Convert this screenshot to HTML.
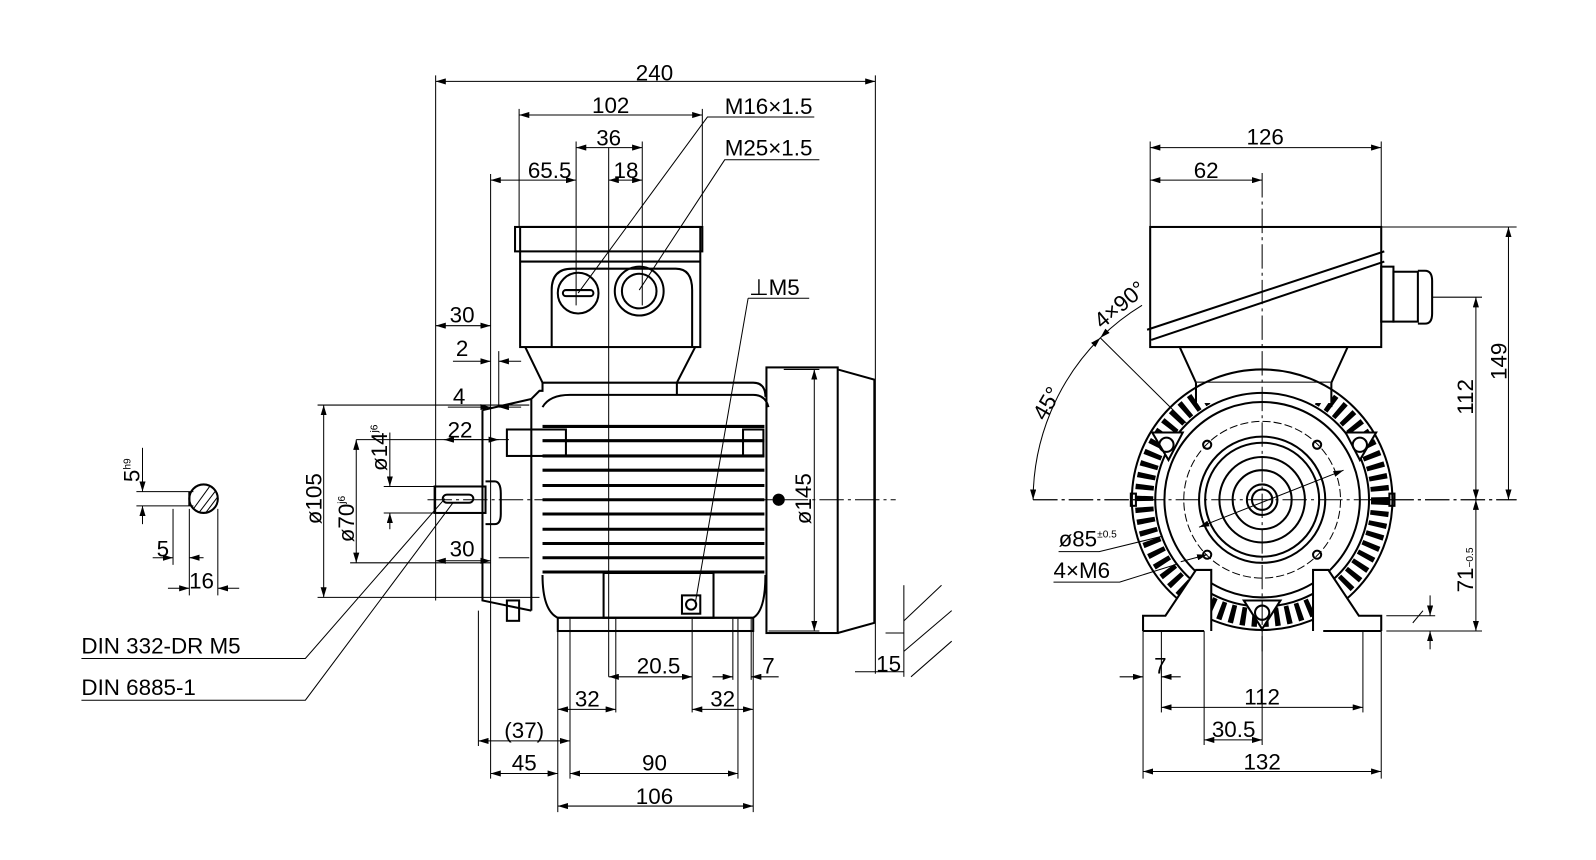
<!DOCTYPE html>
<html><head><meta charset="utf-8"><style>
html,body{margin:0;padding:0;background:#fff;}
svg{display:block}
text{font-family:"Liberation Sans",sans-serif;font-size:22px;fill:#000;}
</style></head><body>
<svg width="1596" height="860" viewBox="0 0 1568 845" preserveAspectRatio="none" xmlns="http://www.w3.org/2000/svg">
<defs>
<marker id="a" viewBox="0 0 10 6" refX="10" refY="3" markerWidth="10" markerHeight="6" markerUnits="userSpaceOnUse" orient="auto-start-reverse"><path d="M0,0L10,3L0,6z" fill="#000"/></marker>
</defs>
<g fill="none" stroke="#000" stroke-width="1">
<line x1="428" y1="80" x2="860" y2="80" marker-start="url(#a)" marker-end="url(#a)"/>
<line x1="428" y1="74" x2="428" y2="590"/><line x1="860" y1="74" x2="860" y2="662"/>
<line x1="510" y1="113" x2="690" y2="113" marker-start="url(#a)" marker-end="url(#a)"/>
<line x1="510" y1="107" x2="510" y2="222"/><line x1="690" y1="107" x2="690" y2="222"/>
<line x1="566" y1="145" x2="631" y2="145" marker-start="url(#a)" marker-end="url(#a)"/>
<line x1="566" y1="139" x2="566" y2="300"/><line x1="631" y1="139" x2="631" y2="300"/>
<line x1="598" y1="145" x2="598" y2="665"/>
<line x1="482" y1="177" x2="566" y2="177" marker-start="url(#a)" marker-end="url(#a)"/>
<line x1="598" y1="177" x2="631" y2="177" marker-start="url(#a)" marker-end="url(#a)"/>
<line x1="482" y1="171" x2="482" y2="765"/>
<polyline points="568,288 695,115 800,115"/>
<polyline points="628,285 712,157 805,157"/>
<line x1="428" y1="320" x2="482" y2="320" marker-start="url(#a)" marker-end="url(#a)"/>
<line x1="445" y1="355" x2="482" y2="355" marker-end="url(#a)"/><line x1="512" y1="355" x2="490" y2="355" marker-end="url(#a)"/>
<line x1="490" y1="345" x2="490" y2="400"/>
<line x1="440" y1="400" x2="482" y2="400" marker-end="url(#a)"/><line x1="512" y1="400" x2="490" y2="400" marker-end="url(#a)"/>
<line x1="436" y1="432" x2="490" y2="432" marker-start="url(#a)" marker-end="url(#a)"/>
<line x1="350" y1="432" x2="500" y2="432"/>
<line x1="318" y1="398" x2="318" y2="587" marker-start="url(#a)" marker-end="url(#a)"/>
<line x1="312" y1="398" x2="520" y2="398"/><line x1="312" y1="587" x2="530" y2="587"/>
<line x1="350" y1="432" x2="350" y2="553" marker-start="url(#a)" marker-end="url(#a)"/>
<line x1="344" y1="553" x2="482" y2="553"/>
<line x1="383" y1="425" x2="383" y2="478" marker-end="url(#a)"/><line x1="383" y1="520" x2="383" y2="504" marker-end="url(#a)"/>
<line x1="377" y1="478" x2="435" y2="478"/><line x1="377" y1="504" x2="435" y2="504"/>
<line x1="428" y1="551" x2="482" y2="551" marker-start="url(#a)" marker-end="url(#a)"/>
<line x1="490" y1="548" x2="520" y2="548"/>
<polyline points="80,647 300,647 437,490" /><polyline points="80,688 300,688 445,494"/>
<polyline points="735,293 683,593"/><line x1="735" y1="293" x2="795" y2="293"/>
<line x1="800" y1="363" x2="800" y2="620" marker-start="url(#a)" marker-end="url(#a)"/>
<line x1="770" y1="363" x2="805" y2="363"/><line x1="755" y1="620" x2="805" y2="620"/>
<line x1="548" y1="608" x2="548" y2="798"/><line x1="560" y1="608" x2="560" y2="765"/>
<line x1="605" y1="608" x2="605" y2="700"/><line x1="680" y1="608" x2="680" y2="700"/>
<line x1="725" y1="608" x2="725" y2="765"/><line x1="740" y1="608" x2="740" y2="798"/>
<line x1="720" y1="608" x2="720" y2="668"/><line x1="738" y1="608" x2="738" y2="668"/>
<line x1="470" y1="600" x2="470" y2="733"/>
<line x1="598" y1="665" x2="680" y2="665" marker-start="url(#a)" marker-end="url(#a)"/>
<line x1="700" y1="665" x2="720" y2="665" marker-end="url(#a)"/><line x1="765" y1="665" x2="738" y2="665" marker-end="url(#a)"/>
<line x1="548" y1="697" x2="605" y2="697" marker-start="url(#a)" marker-end="url(#a)"/>
<line x1="680" y1="697" x2="740" y2="697" marker-start="url(#a)" marker-end="url(#a)"/>
<line x1="470" y1="728" x2="560" y2="728" marker-start="url(#a)" marker-end="url(#a)"/>
<line x1="482" y1="760" x2="548" y2="760" marker-start="url(#a)" marker-end="url(#a)"/>
<line x1="560" y1="760" x2="725" y2="760" marker-start="url(#a)" marker-end="url(#a)"/>
<line x1="548" y1="792" x2="740" y2="792" marker-start="url(#a)" marker-end="url(#a)"/>
<line x1="840" y1="660" x2="888" y2="660"/><line x1="888" y1="575" x2="888" y2="665"/>
<line x1="888" y1="610" x2="925" y2="575"/><line x1="888" y1="640" x2="935" y2="600"/><line x1="895" y1="665" x2="935" y2="630"/>
<line x1="870" y1="622" x2="888" y2="622"/>
<line x1="420" y1="491" x2="880" y2="491" stroke-dasharray="24 4 3 4"/>
<g stroke-width="2">
<rect x="511" y="223" width="177" height="118"/>
<rect x="506" y="223" width="184" height="24"/>
<line x1="511" y1="257" x2="688" y2="257"/>
<path d="M542,341V285Q542,264 562,264H664Q680,264 680,285V341"/>
<polyline points="516,341 533,376 665,376 683,341"/>
<path d="M522,392L530,384H533V376M522,392V600"/>
<path d="M533,400Q540,388 560,388H740Q752,388 755,400"/>
<path d="M665,376V388M665,376H740Q752,376 752,390"/>
<rect x="753" y="361" width="70" height="261"/>
<path d="M823,363L859,373V612L823,622"/>
<path d="M474,403L522,392M474,403V590L522,600"/>
<rect x="427" y="478" width="50" height="26"/>
<rect x="435" y="486" width="30" height="8" rx="4"/>
<path d="M477,473H486Q492,473 492,485V505Q492,515 486,515H477"/>
<rect x="498" y="422" width="58" height="26"/><rect x="730" y="422" width="20" height="26"/>
<rect x="498" y="590" width="12" height="20"/>
<path d="M533,565Q533,600 548,607H740Q752,600 752,565"/>
<rect x="593" y="563" width="108" height="44"/>
<rect x="548" y="607" width="192" height="13"/>
<rect x="670" y="585" width="18" height="18"/><circle cx="679" cy="594" r="5"/>
<circle cx="568" cy="288" r="20"/><rect x="553" y="285" width="30" height="6" rx="3"/>
<circle cx="628" cy="286" r="24"/><circle cx="628" cy="286" r="17"/>
<circle cx="765" cy="491" r="5" fill="#000"/>
</g>
<g stroke-width="3">
<line x1="533" y1="419" x2="751" y2="419"/><line x1="533" y1="433" x2="751" y2="433"/>
<line x1="533" y1="448" x2="751" y2="448"/><line x1="533" y1="462" x2="751" y2="462"/>
<line x1="533" y1="477" x2="751" y2="477"/><line x1="533" y1="491" x2="751" y2="491"/>
<line x1="533" y1="505" x2="751" y2="505"/><line x1="533" y1="520" x2="751" y2="520"/>
<line x1="533" y1="534" x2="751" y2="534"/><line x1="533" y1="548" x2="751" y2="548"/>
<line x1="533" y1="562" x2="751" y2="562"/>
</g>
<circle cx="200" cy="490" r="14" stroke-width="2"/>
<line x1="186" y1="483" x2="186" y2="497" stroke-width="2"/>
<line x1="190" y1="500" x2="206" y2="478"/><line x1="196" y1="503" x2="212" y2="482"/><line x1="202" y1="504" x2="214" y2="488"/>
<line x1="140" y1="440" x2="140" y2="483" marker-end="url(#a)"/><line x1="140" y1="515" x2="140" y2="497" marker-end="url(#a)"/>
<line x1="134" y1="483" x2="190" y2="483"/><line x1="134" y1="497" x2="190" y2="497"/>
<line x1="186" y1="500" x2="186" y2="585"/><line x1="214" y1="500" x2="214" y2="585"/><line x1="170" y1="500" x2="170" y2="555"/>
<line x1="150" y1="548" x2="170" y2="548" marker-end="url(#a)"/><line x1="200" y1="548" x2="186" y2="548" marker-end="url(#a)"/>
<line x1="165" y1="578" x2="186" y2="578" marker-end="url(#a)"/><line x1="235" y1="578" x2="214" y2="578" marker-end="url(#a)"/>

<line x1="1130" y1="145" x2="1357" y2="145" marker-start="url(#a)" marker-end="url(#a)"/>
<line x1="1130" y1="139" x2="1130" y2="223"/><line x1="1357" y1="139" x2="1357" y2="223"/>
<line x1="1130" y1="177" x2="1240" y2="177" marker-start="url(#a)" marker-end="url(#a)"/>
<line x1="1015" y1="491" x2="1490" y2="491" stroke-dasharray="24 4 3 4"/>
<line x1="1357" y1="223" x2="1490" y2="223"/><line x1="1407" y1="292" x2="1456" y2="292"/>
<line x1="1482" y1="223" x2="1482" y2="491" marker-start="url(#a)" marker-end="url(#a)"/>
<line x1="1450" y1="292" x2="1450" y2="491" marker-start="url(#a)" marker-end="url(#a)"/>
<line x1="1450" y1="491" x2="1450" y2="620" marker-start="url(#a)" marker-end="url(#a)"/>
<line x1="1362" y1="620" x2="1456" y2="620"/><line x1="1362" y1="605" x2="1410" y2="605"/>
<line x1="1405" y1="585" x2="1405" y2="605" marker-end="url(#a)"/><line x1="1405" y1="638" x2="1405" y2="620" marker-end="url(#a)"/>
<line x1="1388" y1="612" x2="1398" y2="600"/>
<path d="M1015,491A225,225 0 0 1 1081,332" marker-start="url(#a)" marker-end="url(#a)"/>
<path d="M1081,332A225,225 0 0 1 1122,300" marker-start="url(#a)"/>
<line x1="1081" y1="332" x2="1187" y2="437"/>
<polyline points="1040,542 1080,542 1178,518"/>
<polyline points="1035,572 1100,572 1186,545" />
<line x1="1123" y1="620" x2="1123" y2="765"/><line x1="1141" y1="620" x2="1141" y2="700"/>
<line x1="1183" y1="620" x2="1183" y2="732"/><line x1="1339" y1="620" x2="1339" y2="700"/><line x1="1357" y1="620" x2="1357" y2="765"/>
<line x1="1100" y1="665" x2="1123" y2="665" marker-end="url(#a)"/><line x1="1160" y1="665" x2="1141" y2="665" marker-end="url(#a)"/>
<line x1="1141" y1="695" x2="1339" y2="695" marker-start="url(#a)" marker-end="url(#a)"/>
<line x1="1183" y1="727" x2="1240" y2="727" marker-start="url(#a)" marker-end="url(#a)"/>
<line x1="1240" y1="620" x2="1240" y2="732"/>
<line x1="1123" y1="758" x2="1357" y2="758" marker-start="url(#a)" marker-end="url(#a)"/>
<circle cx="1240" cy="491" r="116" stroke-width="18" stroke-dasharray="5 6"/>
<g stroke-width="2">
<rect x="1130" y="223" width="227" height="118" fill="#fff"/>
<line x1="1127" y1="324" x2="1360" y2="247"/><line x1="1131" y1="334" x2="1360" y2="257"/>
<rect x="1357" y="262" width="12" height="54"/>
<rect x="1369" y="267" width="24" height="49"/>
<path d="M1393,266H1400Q1407,266 1407,276V308Q1407,318 1400,318H1393"/>
<polygon points="1159,341 1175,376 1308,376 1324,341" fill="#fff"/>
<rect x="1175" y="376" width="133" height="20" fill="#fff" stroke="none"/>
<circle cx="1240" cy="491" r="128"/>
<circle cx="1240" cy="491" r="105" fill="#fff"/><circle cx="1240" cy="491" r="96"/>
<circle cx="1240" cy="491" r="62"/><circle cx="1240" cy="491" r="56"/>
<circle cx="1240" cy="491" r="42"/><circle cx="1240" cy="491" r="29"/>
<circle cx="1240" cy="491" r="15"/><circle cx="1240" cy="491" r="10"/>
<line x1="1175" y1="376" x2="1175" y2="400"/><line x1="1308" y1="376" x2="1308" y2="400"/>
<path d="M1123,620V605H1145L1175,560H1190V620M1123,620H1183" fill="#fff"/>
<path d="M1357,620V605H1335L1305,560H1290V620M1357,620H1300" fill="#fff"/>
<path d="M1222,590L1258,590L1240,618Z" fill="#fff"/><circle cx="1240" cy="602" r="7"/>
<path d="M1132,425L1162,425L1148,452Z" fill="#fff"/><circle cx="1146" cy="437" r="7"/>
<path d="M1322,425L1352,425L1336,452Z" fill="#fff"/><circle cx="1336" cy="437" r="7"/>
<circle cx="1186" cy="437" r="4"/><circle cx="1294" cy="437" r="4"/>
<circle cx="1186" cy="545" r="4"/><circle cx="1294" cy="545" r="4"/>
<rect x="1111" y="485" width="5" height="12"/><rect x="1365" y="485" width="5" height="12"/>
</g>
<circle cx="1240" cy="491" r="77" stroke-dasharray="8 3"/>
<line x1="1240" y1="170" x2="1240" y2="640" stroke-dasharray="24 4 3 4"/>
<line x1="1015" y1="491" x2="1490" y2="491" stroke-dasharray="24 4 3 4"/>
<line x1="1178" y1="518" x2="1320" y2="462" marker-start="url(#a)" marker-end="url(#a)"/>
<line x1="1160" y1="552" x2="1186" y2="545" marker-end="url(#a)"/>
</g>
<g>
<text x="643" y="79" text-anchor="middle">240</text>
<text x="600" y="111" text-anchor="middle">102</text>
<text x="598" y="143" text-anchor="middle">36</text>
<text x="540" y="175" text-anchor="middle">65.5</text>
<text x="615" y="175" text-anchor="middle">18</text>
<text x="712" y="112">M16×1.5</text>
<text x="712" y="153">M25×1.5</text>
<text x="454" y="317" text-anchor="middle">30</text>
<text x="454" y="350" text-anchor="middle">2</text>
<text x="451" y="397" text-anchor="middle">4</text>
<text x="452" y="430" text-anchor="middle">22</text>
<text x="454" y="547" text-anchor="middle">30</text>
<text x="736" y="290">⊥M5</text>
<text transform="translate(316,490) rotate(-90)" text-anchor="middle">ø105</text>
<text transform="translate(348,510) rotate(-90)" text-anchor="middle">ø70<tspan font-size="10" dy="-9">j6</tspan></text>
<text transform="translate(380,440) rotate(-90)" text-anchor="middle">ø14<tspan font-size="10" dy="-9">j6</tspan></text>
<text transform="translate(797,490) rotate(-90)" text-anchor="middle">ø145</text>
<text transform="translate(137,462) rotate(-90)" text-anchor="middle">5<tspan font-size="10" dy="-9">h9</tspan></text>
<text x="160" y="547" text-anchor="middle">5</text>
<text x="198" y="578" text-anchor="middle">16</text>
<text x="80" y="642">DIN 332-DR M5</text>
<text x="80" y="683">DIN 6885-1</text>
<text x="647" y="662" text-anchor="middle">20.5</text>
<text x="755" y="662" text-anchor="middle">7</text>
<text x="577" y="694" text-anchor="middle">32</text>
<text x="710" y="694" text-anchor="middle">32</text>
<text x="515" y="725" text-anchor="middle">(37)</text>
<text x="515" y="757" text-anchor="middle">45</text>
<text x="643" y="757" text-anchor="middle">90</text>
<text x="643" y="790" text-anchor="middle">106</text>
<text x="873" y="660" text-anchor="middle">15</text>
<text x="1243" y="142" text-anchor="middle">126</text>
<text x="1185" y="175" text-anchor="middle">62</text>
<text transform="translate(1480,355) rotate(-90)" text-anchor="middle">149</text>
<text transform="translate(1447,390) rotate(-90)" text-anchor="middle">112</text>
<text transform="translate(1447,560) rotate(-90)" text-anchor="middle">71<tspan font-size="10">−0.5</tspan></text>
<text transform="translate(1035,400) rotate(-60)" text-anchor="middle">45°</text>
<text transform="translate(1105,305) rotate(-40)" text-anchor="middle">4×90°</text>
<text x="1040" y="537">ø85<tspan font-size="10" dy="-9">±0.5</tspan></text>
<text x="1035" y="568">4×M6</text>
<text x="1140" y="662" text-anchor="middle">7</text>
<text x="1240" y="692" text-anchor="middle">112</text>
<text x="1212" y="724" text-anchor="middle">30.5</text>
<text x="1240" y="756" text-anchor="middle">132</text>
</g>
</svg>
</body></html>
